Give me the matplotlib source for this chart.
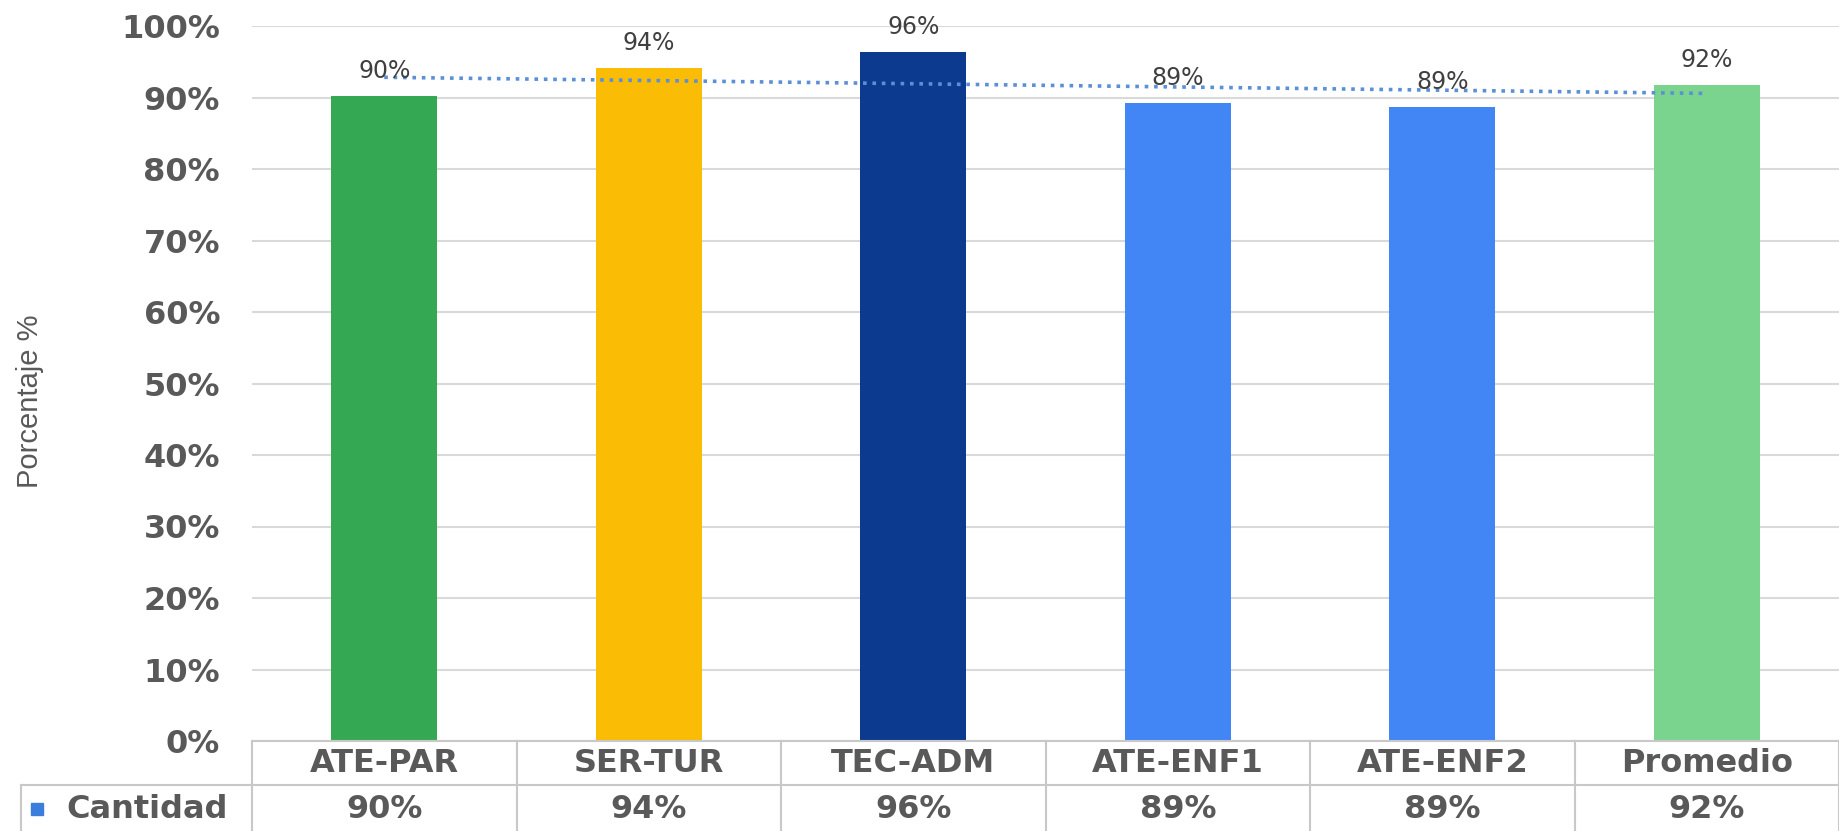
import numpy as np
import matplotlib
matplotlib.use("Agg")
import matplotlib.pyplot as plt
from matplotlib.transforms import blended_transform_factory
from matplotlib.ticker import PercentFormatter

categories = ["ATE-PAR", "SER-TUR", "TEC-ADM", "ATE-ENF1", "ATE-ENF2", "Promedio"]
values = [0.902, 0.941, 0.963, 0.892, 0.887, 0.917]
labels = ["90%", "94%", "96%", "89%", "89%", "92%"]
series_name = "Cantidad"
bar_colors = ["#34A853", "#FBBC05", "#0B3A8F", "#4285F4", "#4285F4", "#7BD48E"]
y_ticks = [0.0, 0.1, 0.2, 0.3, 0.4, 0.5, 0.6, 0.7, 0.8, 0.9, 1.0]

W, H = 1839, 831
fig = plt.figure(figsize=(W / 100, H / 100), dpi=100)
fig.patch.set_facecolor("white")

left_px, right_px, top_px, bot_px = 252, 1839, 26, 741
ax = fig.add_axes([left_px / W, 1 - bot_px / H, (right_px - left_px) / W, (bot_px - top_px) / H])

x = np.arange(len(categories))
ax.bar(x, values, width=0.40, color=bar_colors, zorder=3)

# linear trend line across the bars
coef = np.polyfit(x, values, 1)
ax.plot([x[0], x[-1]], np.polyval(coef, [x[0], x[-1]]), color="#5B8FD6",
        linestyle=(0, (1, 1.6)), linewidth=2.6, zorder=4)

for xi, v, lab in zip(x, values, labels):
    ax.annotate(lab, (xi, v), xytext=(0, 18), textcoords="offset points",
                ha="center", va="center", fontsize=17, color="#404040",
                family="DejaVu Sans", zorder=5)

ax.set_xlim(-0.5, len(categories) - 0.5)
ax.set_ylim(0, 1.0)
ax.set_yticks(y_ticks)
ax.yaxis.set_major_formatter(PercentFormatter(1.0, decimals=0))
ax.grid(axis="y", color="#D9D9D9", linewidth=1.5, zorder=0)
ax.set_axisbelow(True)
for s in ax.spines.values():
    s.set_visible(False)
ax.tick_params(axis="y", length=0, pad=23, labelsize=23, labelcolor="#595959")
for t in ax.get_yticklabels():
    t.set_fontweight("bold")
    t.set_family("DejaVu Sans")
ax.set_xticks([])

fig.text(30 / W, 1 - 401 / H, "Porcentaje %", rotation=90, ha="center", va="center",
         fontsize=21, color="#595959", family="Liberation Sans")

# data table below the axis
tr = blended_transform_factory(ax.transData, ax.transAxes)
ah = bot_px - top_px
colw = (right_px - left_px) / len(categories)
def ya(px):
    return -(px - bot_px) / ah
def xd(px):
    return -0.5 + (px - left_px) / colw

line_kw = dict(color="#C8C8C8", linewidth=1.5, transform=tr, clip_on=False, zorder=6)
row1_bot = 785
tbl_bot = 831
ax.plot([-0.5, len(categories) - 0.5], [0, 0], **line_kw)
ax.plot([xd(21), len(categories) - 0.5], [ya(row1_bot), ya(row1_bot)], **line_kw)
ax.plot([xd(21), xd(21)], [ya(row1_bot), ya(tbl_bot)], **line_kw)
for b in np.arange(len(categories) + 1) - 0.5:
    ax.plot([b, b], [0, ya(tbl_bot)], **line_kw)

for xi, c, lab in zip(x, categories, labels):
    ax.text(xi, ya(763), c, transform=tr, ha="center", va="center", fontsize=23,
            fontweight="bold", color="#595959", family="DejaVu Sans", clip_on=False)
    ax.text(xi, ya(809), lab, transform=tr, ha="center", va="center", fontsize=23,
            fontweight="bold", color="#595959", family="DejaVu Sans", clip_on=False)

ax.plot([xd(37)], [ya(809)], marker="s", markersize=9, color="#3B7DDD",
        transform=tr, clip_on=False, linestyle="none")
ax.text(xd(66), ya(809), series_name, transform=tr, ha="left", va="center", fontsize=23,
        fontweight="bold", color="#595959", family="DejaVu Sans", clip_on=False)

fig.savefig("out.png", dpi=100, facecolor="white")
